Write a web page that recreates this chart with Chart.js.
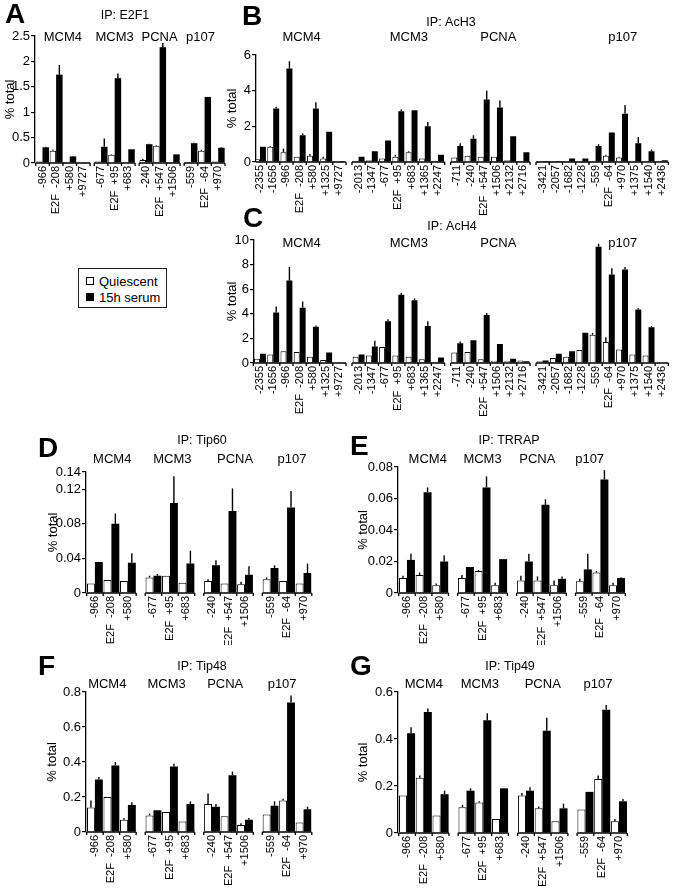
<!DOCTYPE html>
<html><head><meta charset="utf-8">
<script src="https://cdn.jsdelivr.net/npm/chart.js@4.4.1/dist/chart.umd.min.js"></script>
<style>
html,body{margin:0;padding:0;background:#fff;}
body{width:678px;height:888px;position:relative;overflow:hidden;font-family:'Liberation Sans',Arial,sans-serif;color:#000;}
.wrap{position:absolute;}
#legend{position:absolute;left:78px;top:268px;width:87px;height:38px;border:1px solid #222;font-size:13px;line-height:15px;}
#legend .sq{position:absolute;left:7px;width:8px;height:8px;box-sizing:border-box;border:1px solid #000;}
#legend .tx{position:absolute;left:20px;white-space:nowrap;}
</style></head><body>
<div id="legend">
  <div class="sq" style="top:8px;background:#fff"></div><span class="tx" style="top:5px">Quiescent</span>
  <div class="sq" style="top:24px;background:#000"></div><span class="tx" style="top:21px">15h serum</span>
</div>
<script>
// ---------------- DATA ----------------
const genes = ['MCM4', 'MCM3', 'PCNA', 'p107'];

// Panel A (IP: E2F1)
const catsA = ['-966','E2F  -208','+580','+9727','-677','E2F  +95','+683','-240','E2F  +547','+1506','-559','E2F  -64','+970'];
const sizesA = [4, 3, 3, 3];
const quiA    = [0.03,0.24,0.02,0.01, 0.03,0.16,0.01, 0.06,0.34,0.02, 0.02,0.24,0.03];
const serA    = [0.31,1.74,0.13,0.01, 0.32,1.67,0.27, 0.37,2.28,0.17, 0.39,1.30,0.30];
const quiErrA = [0,0.02,0,0, 0,0.01,0, 0.02,0.01,0, 0,0.02,0];
const serErrA = [0.01,0.19,0.01,0, 0.16,0.09,0, 0.01,0.08,0, 0.01,0,0.01];
const yTicksA = [0, 0.5, 1, 1.5, 2, 2.5];

// Panels B & C (IP: AcH3, IP: AcH4)
const catsB = ['-2355','-1656','-966','E2F  -208','+580','+1325','+9727',
               '-2013','-1347','-677','E2F  +95','+683','+1365','+2247',
               '-711','-240','E2F  +547','+1506','+2132','+2716',
               '-3421','-2057','-1682','-1228','-559','E2F  -64','+970','+1375','+1540','+2436'];
const sizesB = [7, 7, 6, 10];
const quiB    = [0.15,0.85,0.55,0.3,0.35,0.2,0.05, 0.05,0.1,0.2,0.3,0.55,0.2,0.05, 0.25,0.35,0.3,0.3,0.1,0.05, 0.02,0.02,0.05,0.05,0.05,0.35,0.25,0.07,0.05,0.02];
const serB    = [0.85,3.0,5.25,1.5,3.0,1.7,0.05, 0.3,0.6,1.2,2.85,2.9,2.0,0.4, 0.9,1.3,3.5,3.05,1.45,0.55, 0.05,0.05,0.2,0.2,0.9,1.65,2.7,1.05,0.6,0.1];
const quiErrB = [0,0.05,0.2,0,0.1,0.1,0, 0,0,0,0.1,0.05,0,0, 0,0,0,0,0,0, 0,0,0,0,0,0.05,0.05,0,0,0];
const serErrB = [0,0.1,0.4,0.1,0.35,0,0, 0,0,0,0.1,0,0.25,0, 0.15,0.2,0.5,0.4,0,0, 0,0,0,0,0.1,0,0.5,0.35,0.1,0];
const yTicksB = [0, 1, 2, 3, 4, 5, 6];

const quiC    = [0.35,0.7,0.95,0.9,0.5,0.25,0.05, 0.5,0.6,1.3,0.6,0.5,0.3,0.1, 0.85,0.9,0.3,0.15,0.15,0.2, 0.15,0.4,0.5,1.05,2.3,1.7,1.1,0.7,0.6,0.05];
const serC    = [0.75,4.1,6.7,4.5,2.95,0.85,0.05, 0.7,1.35,3.4,5.55,5.1,3.0,0.45, 1.6,1.85,3.9,1.55,0.35,0.15, 0.2,0.75,0.95,2.45,9.45,7.2,7.6,4.35,2.9,0.05];
const quiErrC = [0,0,0,0,0,0,0, 0,0,0,0,0,0,0, 0,0,0,0,0,0, 0,0,0,0,0.15,0.4,0,0,0,0];
const serErrC = [0,0.5,1.1,0.5,0.1,0,0, 0,0.45,0.15,0.15,0.15,0.4,0, 0.15,0,0.15,0,0,0, 0,0,0,0,0.25,0.5,0.2,0.1,0.1,0];
const yTicksC = [0, 1, 2, 3, 4, 5, 6, 7, 8, 9, 10];

// Panels D-G (Tip60, TRRAP, Tip48, Tip49)
const catsD = ['-966','E2F  -208','+580','-677','E2F  +95','+683','-240','E2F  +547','+1506','-559','E2F  -64','+970'];
const sizesD = [3, 3, 3, 3];
const quiD    = [0.011,0.015,0.014, 0.018,0.020,0.012, 0.014,0.011,0.010, 0.016,0.014,0.011];
const serD    = [0.036,0.080,0.035, 0.020,0.104,0.034, 0.032,0.095,0.021, 0.029,0.099,0.023];
const quiErrD = [0,0,0, 0.002,0,0, 0.002,0,0.003, 0.002,0,0];
const serErrD = [0,0.012,0.011, 0.002,0.031,0.015, 0.006,0.026,0.010, 0.003,0.019,0.011];
const yTicksD = [0, 0.04, 0.08, 0.12, 0.14];

const quiE    = [0.0095,0.0115,0.005, 0.0095,0.014,0.005, 0.008,0.008,0.005, 0.0075,0.013,0.005];
const serE    = [0.021,0.064,0.020, 0.0165,0.067,0.0215, 0.020,0.056,0.009, 0.015,0.072,0.0095];
const quiErrE = [0.0015,0.0015,0.001, 0.002,0.0005,0.0015, 0.003,0.0025,0.003, 0.0015,0.001,0.0015];
const serErrE = [0.004,0.003,0.004, 0,0.007,0, 0.005,0.0035,0.0015, 0.010,0.006,0.0005];
const yTicksE = [0, 0.02, 0.04, 0.06, 0.08];

const quiF    = [0.14,0.20,0.07, 0.095,0.115,0.06, 0.16,0.09,0.04, 0.10,0.18,0.055];
const serF    = [0.30,0.38,0.155, 0.125,0.375,0.16, 0.145,0.325,0.07, 0.15,0.74,0.13];
const quiErrF = [0.04,0,0.01, 0.01,0,0, 0.06,0,0.01, 0,0.01,0];
const serErrF = [0.015,0.02,0.015, 0,0.015,0.015, 0.015,0.02,0.01, 0.025,0.04,0.015];
const yTicksF = [0, 0.2, 0.4, 0.6, 0.8];

const quiG    = [0.16,0.235,0.075, 0.11,0.13,0.06, 0.16,0.105,0.05, 0.10,0.23,0.05];
const serG    = [0.425,0.515,0.165, 0.18,0.48,0.19, 0.18,0.435,0.105, 0.175,0.525,0.135];
const quiErrG = [0,0.01,0, 0.01,0.005,0, 0.01,0.008,0, 0,0.015,0.01];
const serErrG = [0.025,0.015,0.015, 0.01,0.03,0, 0.015,0.055,0.02, 0,0.02,0.01];
const yTicksG = [0, 0.2, 0.4, 0.6];

// ---------------- LAYOUT / STYLE ----------------
const FONT = "'Liberation Sans', Arial, sans-serif";
Chart.defaults.font.family = FONT;
Chart.defaults.color = '#000';

function positions(sizes, gap) {
  const out = []; let idx = 0;
  sizes.forEach((n, g) => { for (let k = 0; k < n; k++) { out.push(idx + g * gap); idx++; } });
  return out;
}

const panels = [
  { letter:'A', title:'IP: E2F1', cats:catsA, sizes:sizesA, qui:quiA, ser:serA, quiErr:quiErrA, serErr:serErrA, yTicks:yTicksA,
    box:{x:0,y:0,w:235,h:225}, area:{l:35,t:36,r:225,b:163}, yTitleX:10, gap:0.3, xr:[-0.55,13.4], cat:0.95,
    titleXY:[125,16], geneY:37, geneShift:[0,0,0,-0.3], letterXY:[5,23] },
  { letter:'B', title:'IP: AcH3', cats:catsB, sizes:sizesB, qui:quiB, ser:serB, quiErr:quiErrB, serErr:serErrB, yTicks:yTicksB,
    box:{x:220,y:0,w:458,h:215}, area:{l:256,t:55,r:677,b:162}, yTitleX:232, gap:0.45, xr:[-0.3,30.87], cat:0.9,
    titleXY:[451,23], geneY:37, geneShift:[0.15,0.8,0.6,1.55], letterXY:[242,25] },
  { letter:'C', title:'IP: AcH4', cats:catsB, sizes:sizesB, qui:quiC, ser:serC, quiErr:quiErrC, serErr:serErrC, yTicks:yTicksC,
    box:{x:220,y:200,w:458,h:225}, area:{l:254,t:240,r:677,b:363}, yTitleX:232, gap:0.45, xr:[-0.45,30.87], cat:0.9,
    titleXY:[452,227], geneY:243, geneShift:[0.15,0.8,0.6,1.55], letterXY:[243,227] },
  { letter:'D', title:'IP: Tip60', cats:catsD, sizes:sizesD, qui:quiD, ser:serD, quiErr:quiErrD, serErr:serErrD, yTicks:yTicksD,
    box:{x:30,y:430,w:290,h:215}, area:{l:86,t:472,r:313,b:593}, yTitleX:53, gap:0.55, xr:[-0.54,13.13], cat:0.96,
    titleXY:[202,441], geneY:459, geneShift:[0.05,0.15,0.4,0.3], letterXY:[38,457] },
  { letter:'E', title:'IP: TRRAP', cats:catsD, sizes:sizesD, qui:quiE, ser:serE, quiErr:quiErrE, serErr:serErrE, yTicks:yTicksE,
    box:{x:340,y:430,w:300,h:215}, area:{l:398,t:467,r:625,b:593}, yTitleX:363, gap:0.55, xr:[-0.54,13.13], cat:0.96,
    titleXY:[509,441], geneY:459, geneShift:[0.25,0,-0.25,-0.65], letterXY:[350,455] },
  { letter:'F', title:'IP: Tip48', cats:catsD, sizes:sizesD, qui:quiF, ser:serF, quiErr:quiErrF, serErr:serErrF, yTicks:yTicksF,
    box:{x:30,y:640,w:290,h:248}, area:{l:86,t:692,r:313,b:832}, yTitleX:52, gap:0.55, xr:[-0.54,13.13], cat:0.96,
    titleXY:[202,667], geneY:684, geneShift:[-0.25,-0.2,-0.2,-0.3], letterXY:[38,675] },
  { letter:'G', title:'IP: Tip49', cats:catsD, sizes:sizesD, qui:quiG, ser:serG, quiErr:quiErrG, serErr:serErrG, yTicks:yTicksG,
    box:{x:340,y:640,w:300,h:248}, area:{l:398,t:692,r:627,b:833}, yTitleX:363, gap:0.55, xr:[-0.54,13.13], cat:0.96,
    titleXY:[510,667], geneY:684, geneShift:[0,-0.2,0,-0.25], letterXY:[350,675] }
];

const decor = {
  id: 'decor',
  afterDatasetsDraw(chart, args, o) {
    const ctx = chart.ctx, xs = chart.scales.x, ys = chart.scales.y;
    const p = o.p, pos = o.pos, bx = p.box.x, by = p.box.y;
    const y0 = ys.getPixelForValue(0);
    ctx.save();
    // error bars (upper only)
    ctx.strokeStyle = '#000'; ctx.lineWidth = 1.4;
    [p.quiErr, p.serErr].forEach((errs, d) => {
      const meta = chart.getDatasetMeta(d);
      const vals = d === 0 ? p.qui : p.ser;
      meta.data.forEach((bar, i) => {
        const e = errs[i]; if (!e) return;
        const yt = ys.getPixelForValue(vals[i] + e);
        ctx.beginPath(); ctx.moveTo(bar.x, bar.y); ctx.lineTo(bar.x, yt); ctx.stroke();
      });
    });
    // broken x axis, one segment per gene group
    ctx.lineWidth = 1.3;
    let start = 0;
    ctx.fillStyle = '#000';
    p.sizes.forEach((n, g) => {
      const a = pos[start] - 0.5, b = pos[start + n - 1] + 0.5;
      const xa = Math.max(xs.left, xs.getPixelForValue(a));
      const xb = Math.min(xs.right, xs.getPixelForValue(b));
      ctx.beginPath(); ctx.moveTo(xa, y0); ctx.lineTo(xb, y0); ctx.stroke();
      for (let k = 0; k <= n; k++) {
        const xp = xs.getPixelForValue(a + k);
        if (xp < xs.left - 1 || xp > xs.right + 1) continue;
        ctx.beginPath(); ctx.moveTo(xp, y0); ctx.lineTo(xp, y0 + 3); ctx.stroke();
      }
      const cx = xs.getPixelForValue((pos[start] + pos[start + n - 1]) / 2 + p.geneShift[g]);
      ctx.font = '13px ' + FONT; ctx.textAlign = 'center'; ctx.textBaseline = 'middle';
      ctx.fillText(genes[g], cx, p.geneY - by);
      start += n;
    });
    ctx.font = '12.5px ' + FONT; ctx.textAlign = 'center'; ctx.textBaseline = 'middle';
    ctx.fillText(p.title, p.titleXY[0] - bx, p.titleXY[1] - by);
    ctx.font = 'bold 28px ' + FONT; ctx.textAlign = 'left'; ctx.textBaseline = 'alphabetic';
    ctx.fillText(p.letter, p.letterXY[0] - bx, p.letterXY[1] - by);
    ctx.restore();
  }
};

panels.forEach(p => {
  const wrap = document.createElement('div');
  wrap.className = 'wrap';
  wrap.style.left = p.box.x + 'px'; wrap.style.top = p.box.y + 'px';
  wrap.style.width = p.box.w + 'px'; wrap.style.height = p.box.h + 'px';
  const cv = document.createElement('canvas');
  cv.width = p.box.w; cv.height = p.box.h;
  cv.style.width = p.box.w + 'px'; cv.style.height = p.box.h + 'px';
  wrap.appendChild(cv); document.body.appendChild(wrap);

  const pos = positions(p.sizes, p.gap);
  const lh = 13 * 1.2;
  const padLeft = Math.max(0, p.yTitleX - p.box.x - lh / 2);
  const yW = p.area.l - p.box.x - padLeft;
  const xH = p.box.y + p.box.h - p.area.b;

  new Chart(cv, {
    type: 'bar',
    data: {
      datasets: [
        { label: 'Quiescent', data: pos.map((x, i) => ({ x, y: p.qui[i] })),
          backgroundColor: '#fff', borderColor: '#000', borderWidth: 1 },
        { label: '15h serum', data: pos.map((x, i) => ({ x, y: p.ser[i] })),
          backgroundColor: '#000', borderColor: '#000', borderWidth: 0 }
      ]
    },
    options: {
      responsive: false, animation: false, devicePixelRatio: 1,
      datasets: { bar: { categoryPercentage: p.cat, barPercentage: 1, grouped: true } },
      layout: { padding: { left: padLeft, top: p.area.t - p.box.y, right: p.box.x + p.box.w - p.area.r, bottom: 0 } },
      plugins: { legend: { display: false }, tooltip: { enabled: false }, decor: { p, pos } },
      scales: {
        x: {
          type: 'linear', min: p.xr[0], max: p.xr[1], offset: false,
          grid: { display: false, drawTicks: false }, border: { display: false },
          afterBuildTicks: ax => { ax.ticks = pos.map(v => ({ value: v })); },
          afterFit: ax => { ax.height = xH; },
          ticks: { autoSkip: false, maxRotation: 90, minRotation: 90, padding: 3, color: '#000',
                   font: { size: 11, family: FONT }, callback: (v, i) => p.cats[i] }
        },
        y: {
          min: 0, max: p.yTicks[p.yTicks.length - 1],
          afterBuildTicks: ax => { ax.ticks = p.yTicks.map(v => ({ value: v })); },
          afterFit: ax => { ax.width = yW; },
          grid: { display: true, drawOnChartArea: false, drawTicks: true, tickLength: 4, color: '#000', lineWidth: 1.2 },
          border: { display: true, color: '#000', width: 1.3 },
          ticks: { padding: 1, color: '#000', font: { size: 13, family: FONT }, callback: v => String(v) },
          title: { display: true, text: '% total', color: '#000', font: { size: 13, family: FONT }, padding: 0 }
        }
      }
    },
    plugins: [decor]
  });
});
</script>
</body></html>
